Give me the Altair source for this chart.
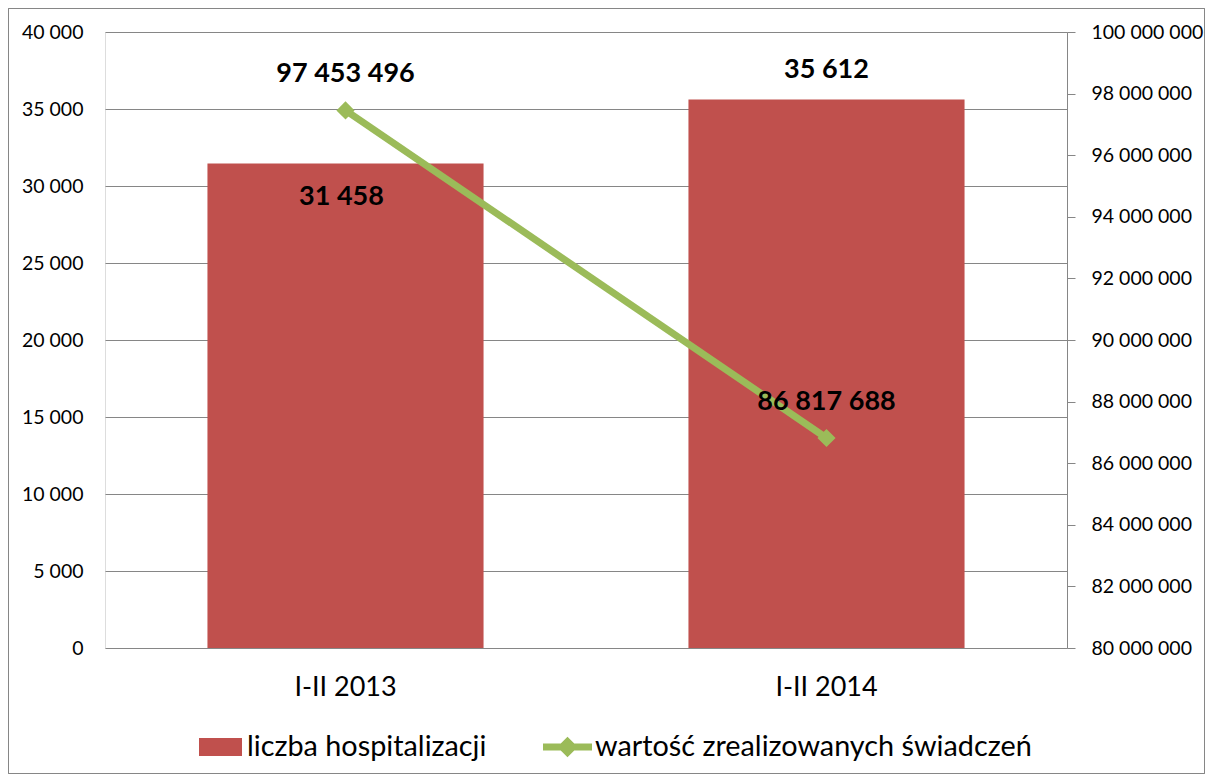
import altair as alt
import pandas as pd

categories = ["I-II 2013", "I-II 2014"]
hospitalizations = [31458, 35612]
values = [97453496, 86817688]
bar_series = "liczba hospitalizacji"
line_series = "wartość zrealizowanych świadczeń"

def fmt(v):
    return f"{v:,}".replace(",", " ")

df = pd.DataFrame({
    "cat": categories,
    "hosp": hospitalizations,
    "val": values,
    "hosp_lbl": [fmt(v) for v in hospitalizations],
    "val_lbl": [fmt(v) for v in values],
    "s1": [bar_series] * 2,
    "s2": [line_series] * 2,
})

FONT = "Lato"
GRID = "#868686"
BAR_C = "#C0504D"
LINE_C = "#9BBB59"
lab_expr = "replace(datum.label, regexp(',', 'g'), ' ')"

base = alt.Chart(df)

xenc = alt.X("cat:N", sort=categories, title=None,
             scale=alt.Scale(paddingInner=0.426, paddingOuter=0.213),
             axis=alt.Axis(labelAngle=0, ticks=False, domain=False, labelFontSize=27,
                           labelPadding=26, labelColor="#000", labelFont=FONT))

yleft = alt.Y("hosp:Q", title=None,
              scale=alt.Scale(domain=[0, 40000], nice=False),
              axis=alt.Axis(values=list(range(0, 40001, 5000)), format=",d", labelExpr=lab_expr,
                            grid=True, gridColor=GRID, ticks=False, domain=False,
                            labelPadding=22, labelFontSize=19.5, labelColor="#000", labelFont=FONT))

bars = base.mark_bar(color=BAR_C).encode(
    x=xenc, y=yleft,
    color=alt.Color("s1:N", scale=alt.Scale(domain=[bar_series], range=[BAR_C]),
                    legend=alt.Legend(title=None, orient="none", legendX=94, legendY=693.5,
                                      symbolType="M-1,-0.419H1V0.419H-1Z", symbolSize=1849,
                                      symbolStrokeWidth=0, labelOffset=5, padding=0,
                                      labelFontSize=28.8, labelFont=FONT, labelColor="#000",
                                      labelLimit=600)),
)

bar_lbl_in = base.transform_filter(alt.datum.cat == categories[0]).mark_text(
    fontSize=27, fontWeight="bold", font=FONT, dy=33, dx=-4, color="#000", baseline="middle"
).encode(x=alt.X("cat:N", sort=categories), y=alt.Y("hosp:Q"), text="hosp_lbl:N")

bar_lbl_out = base.transform_filter(alt.datum.cat == categories[1]).mark_text(
    fontSize=27, fontWeight="bold", font=FONT, dy=-30, color="#000", baseline="middle"
).encode(x=alt.X("cat:N", sort=categories), y=alt.Y("hosp:Q"), text="hosp_lbl:N")

left = alt.layer(bars, bar_lbl_in, bar_lbl_out)

yright = alt.Y("val:Q", title=None,
               scale=alt.Scale(domain=[80000000, 100000000], nice=False),
               axis=alt.Axis(orient="right", values=list(range(80000000, 100000001, 2000000)),
                             format=",d", labelExpr=lab_expr, grid=False, domain=True,
                             domainColor=GRID, ticks=True, tickColor=GRID, tickSize=8,
                             labelPadding=16, labelFontSize=19.5, labelColor="#000", labelFont=FONT))

line = base.mark_line(color=LINE_C, strokeWidth=7).encode(
    x=alt.X("cat:N", sort=categories), y=yright)

pts = base.mark_point(shape="diamond", filled=True, size=330, opacity=1).encode(
    x=alt.X("cat:N", sort=categories), y=alt.Y("val:Q"),
    color=alt.Color("s2:N", scale=alt.Scale(domain=[line_series], range=[LINE_C]),
                    legend=alt.Legend(title=None, orient="none", legendX=438, legendY=690.5,
                                      symbolType="M-1,-0.143H1V0.143H-1Z M0,-0.42L0.42,0L0,0.42L-0.42,0Z",
                                      symbolSize=2401, symbolStrokeWidth=0, labelOffset=3,
                                      padding=0, labelFontSize=28.8, labelFont=FONT,
                                      labelColor="#000", labelLimit=700)),
)

val_lbl = base.mark_text(fontSize=27, fontWeight="bold", font=FONT, dy=-36, color="#000",
                         baseline="middle").encode(
    x=alt.X("cat:N", sort=categories), y=alt.Y("val:Q"), text="val_lbl:N")

right = alt.layer(line, pts, val_lbl)

border = base.mark_rect(fillOpacity=0, stroke=GRID, strokeWidth=1).encode(
    x=alt.value(-96.5), x2=alt.value(1099.5), y=alt.value(-23.5), y2=alt.value(741.5))

chart = alt.layer(left, right, border).resolve_scale(
    y="independent", color="independent"
).resolve_legend(color="independent").properties(
    width=962, height=616, padding=0
).configure_view(stroke=None).configure(font=FONT)

chart.save("out.html", embed_options={"renderer": "svg", "actions": False})
